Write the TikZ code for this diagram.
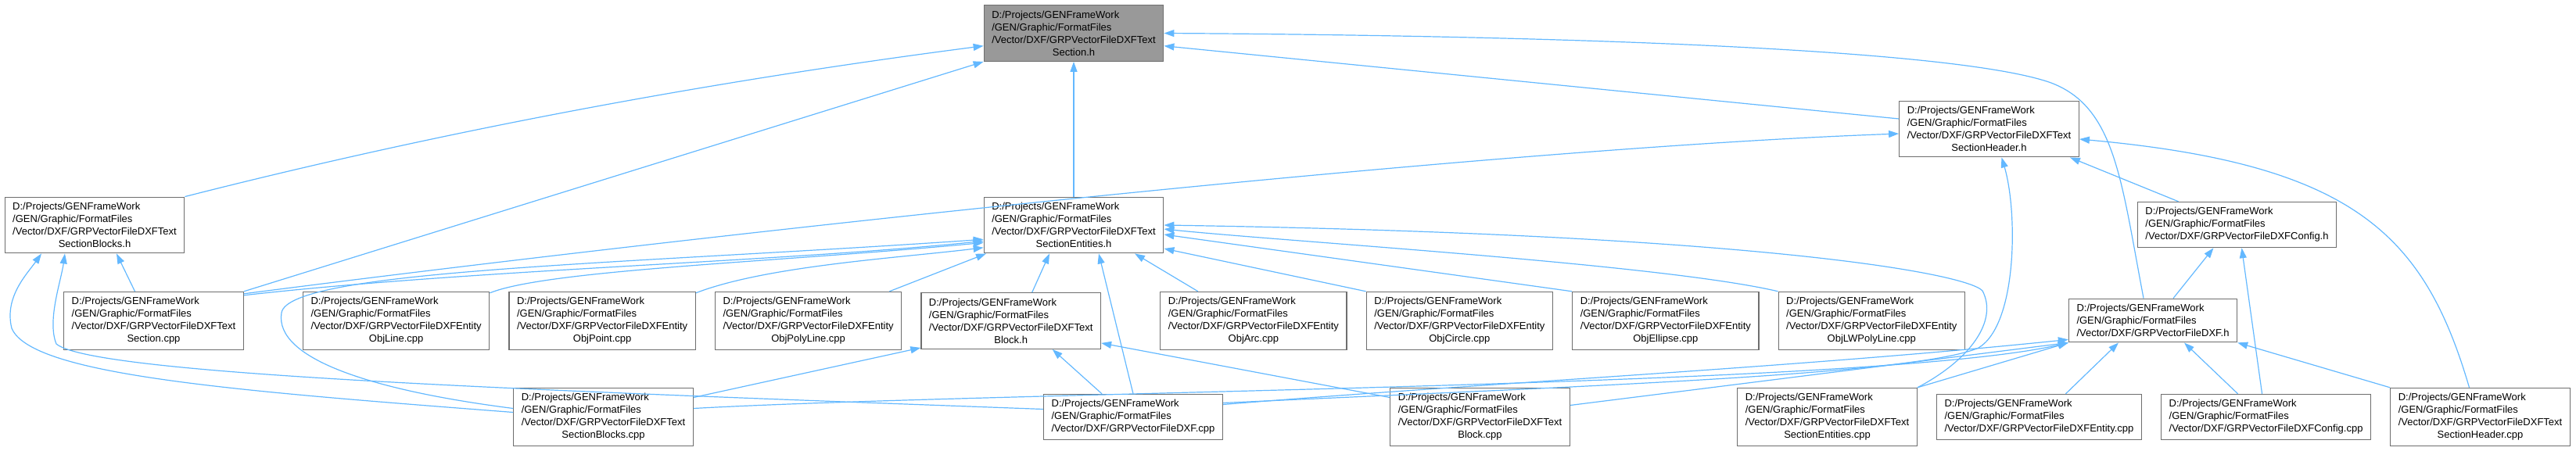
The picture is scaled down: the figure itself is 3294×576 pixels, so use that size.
\documentclass[tikz,border=0pt]{standalone}
\usepackage{fontspec}
\setmainfont{Liberation Sans}
\usepackage{tikz}
\usetikzlibrary{arrows.meta,positioning}
\definecolor{inclink}{HTML}{63B8FF}
\definecolor{boxline}{HTML}{6E6E6E}
\definecolor{rootgray}{HTML}{999999}
\newcommand{\midline}[1]{\null\hfill#1\hfill\null}

\begin{document}
\begin{tikzpicture}[x=1pt,y=1pt,
  node distance=24pt,
  file/.style={draw=boxline,line width=1.3pt,fill=white,align=left,inner xsep=10pt,inner ysep=7pt,font=\fontsize{13}{16}\selectfont},
  rootfile/.style={file,fill=rootgray},
  dep/.style={-{Triangle[length=13pt,width=9pt]},color=inclink,line width=1.2pt}
]
\useasboundingbox (0,0) rectangle (3294,-576);
\node[rootfile] (root) at (1373,-42.5) {D:/Projects/GENFrameWork\\/GEN/Graphic/FormatFiles\\/Vector/DXF/GRPVectorFileDXFText\\\midline{Section.h}};
\node[file] (sbh) at (121,-288) {D:/Projects/GENFrameWork\\/GEN/Graphic/FormatFiles\\/Vector/DXF/GRPVectorFileDXFText\\\midline{SectionBlocks.h}};
\node[file] (seh) at (1373,-288) {D:/Projects/GENFrameWork\\/GEN/Graphic/FormatFiles\\/Vector/DXF/GRPVectorFileDXFText\\\midline{SectionEntities.h}};
\node[file] (shh) at (2543.5,-165) {D:/Projects/GENFrameWork\\/GEN/Graphic/FormatFiles\\/Vector/DXF/GRPVectorFileDXFText\\\midline{SectionHeader.h}};
\node[file] (cfgh) at (2860.5,-287.5) {D:/Projects/GENFrameWork\\/GEN/Graphic/FormatFiles\\/Vector/DXF/GRPVectorFileDXFConfig.h};
\node[file] (secpp) at (196.5,-410.5) {D:/Projects/GENFrameWork\\/GEN/Graphic/FormatFiles\\/Vector/DXF/GRPVectorFileDXFText\\\midline{Section.cpp}};
\node[file,right=75pt of secpp] (objline) {D:/Projects/GENFrameWork\\/GEN/Graphic/FormatFiles\\/Vector/DXF/GRPVectorFileDXFEntity\\\midline{ObjLine.cpp}};
\node[file,right=of objline] (objpoint) {D:/Projects/GENFrameWork\\/GEN/Graphic/FormatFiles\\/Vector/DXF/GRPVectorFileDXFEntity\\\midline{ObjPoint.cpp}};
\node[file,right=of objpoint] (objpoly) {D:/Projects/GENFrameWork\\/GEN/Graphic/FormatFiles\\/Vector/DXF/GRPVectorFileDXFEntity\\\midline{ObjPolyLine.cpp}};
\node[file,right=of objpoly] (blkh) {D:/Projects/GENFrameWork\\/GEN/Graphic/FormatFiles\\/Vector/DXF/GRPVectorFileDXFText\\\midline{Block.h}};
\node[file,right=75pt of blkh] (objarc) {D:/Projects/GENFrameWork\\/GEN/Graphic/FormatFiles\\/Vector/DXF/GRPVectorFileDXFEntity\\\midline{ObjArc.cpp}};
\node[file,right=of objarc] (objcircle) {D:/Projects/GENFrameWork\\/GEN/Graphic/FormatFiles\\/Vector/DXF/GRPVectorFileDXFEntity\\\midline{ObjCircle.cpp}};
\node[file,right=of objcircle] (objellipse) {D:/Projects/GENFrameWork\\/GEN/Graphic/FormatFiles\\/Vector/DXF/GRPVectorFileDXFEntity\\\midline{ObjEllipse.cpp}};
\node[file,right=of objellipse] (objlw) {D:/Projects/GENFrameWork\\/GEN/Graphic/FormatFiles\\/Vector/DXF/GRPVectorFileDXFEntity\\\midline{ObjLWPolyLine.cpp}};
\node[file] (dxfh) at (2753,-410) {D:/Projects/GENFrameWork\\/GEN/Graphic/FormatFiles\\/Vector/DXF/GRPVectorFileDXF.h};
\node[file] (sbc) at (771.5,-533.5) {D:/Projects/GENFrameWork\\/GEN/Graphic/FormatFiles\\/Vector/DXF/GRPVectorFileDXFText\\\midline{SectionBlocks.cpp}};
\node[file] (dxfc) at (1449,-533.5) {D:/Projects/GENFrameWork\\/GEN/Graphic/FormatFiles\\/Vector/DXF/GRPVectorFileDXF.cpp};
\node[file] (blkc) at (1892.5,-533.5) {D:/Projects/GENFrameWork\\/GEN/Graphic/FormatFiles\\/Vector/DXF/GRPVectorFileDXFText\\\midline{Block.cpp}};
\node[file] (secc) at (2336.5,-533.5) {D:/Projects/GENFrameWork\\/GEN/Graphic/FormatFiles\\/Vector/DXF/GRPVectorFileDXFText\\\midline{SectionEntities.cpp}};
\node[file,right=of secc] (entc) {D:/Projects/GENFrameWork\\/GEN/Graphic/FormatFiles\\/Vector/DXF/GRPVectorFileDXFEntity.cpp};
\node[file,right=of entc] (cfgc) {D:/Projects/GENFrameWork\\/GEN/Graphic/FormatFiles\\/Vector/DXF/GRPVectorFileDXFConfig.cpp};
\node[file,right=of cfgc] (shc) {D:/Projects/GENFrameWork\\/GEN/Graphic/FormatFiles\\/Vector/DXF/GRPVectorFileDXFText\\\midline{SectionHeader.cpp}};
\draw[dep] (sbh.north east) .. controls (576,-165) and (916,-103) .. (root.188);
\draw[dep] (secpp.north east) -- (root.south west);
\draw[dep] (seh) -- (root);
\draw[dep] ([yshift=13pt]shh.west) -- (root.-8);
\draw[dep] ([xshift=-12pt]dxfh.north) .. controls (2712,-230) and (2705,-135) .. (2620,-105) .. controls (2480,-58) and (1900,-45) .. (root.east);
\draw[dep] ([yshift=-3pt]secpp.north east) .. controls (900,-300) and (1900,-190) .. (shh.183);
\draw[dep] ([xshift=-24pt]secpp.north) -- ([xshift=28pt]sbh.south);
\draw[dep] ([yshift=-5pt]secpp.north east) .. controls (600,-345) and (1000,-335) .. (seh.190);
\draw[dep] ([yshift=6pt]sbc.west) .. controls (300,-500) and (40,-480) .. (15,-420) .. controls (5,-380) and (35,-350) .. ([xshift=-68pt]sbh.south);
\draw[dep] ([yshift=10pt]dxfc.west) .. controls (700,-500) and (120,-480) .. (72,-440) .. controls (60,-410) and (78,-360) .. ([xshift=-38pt]sbh.south);
\draw[dep] ([yshift=11pt]sbc.west) .. controls (480,-500) and (350,-460) .. (360,-400) .. controls (370,-345) and (800,-338) .. (seh.189);
\draw[dep] ([yshift=25pt]sbc.east) -- ([yshift=2pt]blkh.south west);
\draw[dep] ([yshift=11pt]sbc.east) .. controls (1300,-500) and (2400,-495) .. (dxfh.south west);
\draw[dep] (dxfc.north) -- ([xshift=32pt]seh.south);
\draw[dep] ([xshift=-40pt]dxfc.north) -- ([xshift=53pt]blkh.south);
\draw[dep] ([yshift=16pt]dxfc.east) .. controls (1900,-490) and (2300,-470) .. ([yshift=4pt]dxfh.south west);
\draw[dep] ([yshift=18pt]dxfc.east) .. controls (2000,-495) and (2450,-480) .. (2530,-445) .. controls (2580,-415) and (2580,-270) .. ([xshift=16pt]shh.south);
\draw[dep] ([yshift=25pt]blkc.west) -- ([yshift=8pt]blkh.south east);
\draw[dep] ([yshift=15pt]blkc.east) -- (dxfh.south west);
\draw[dep] ([xshift=27pt]blkh.north) -- ([xshift=-31pt]seh.south);
\draw[dep] ([yshift=-2pt]objline.north east) .. controls (700,-345) and (1000,-335) .. (seh.191);
\draw[dep] ([yshift=-2pt]objpoint.north east) .. controls (980,-340) and (1150,-330) .. (seh.194);
\draw[dep] ([xshift=-16pt]objpoly.north east) -- ([xshift=-112pt]seh.south);
\draw[dep] ([xshift=-71pt]objarc.north) -- ([xshift=78pt]seh.south);
\draw[dep] (objcircle.north west) -- ([yshift=-30pt]seh.east);
\draw[dep] (objellipse.north west) -- ([yshift=-12pt]seh.east);
\draw[dep] (objlw.north west) .. controls (2126,-338) and (1643,-309) .. ([yshift=-5pt]seh.east);
\draw[dep] (secc.north east) .. controls (2520,-460) and (2555,-410) .. (2535,-372) .. controls (2515,-350) and (2250,-300) .. (seh.east);
\draw[dep] (secc.north east) -- (dxfh.south west);
\draw[dep] ([xshift=34pt]entc.north) -- ([xshift=-44pt]dxfh.south);
\draw[dep] ([xshift=-36pt]cfgc.north) -- ([xshift=40pt]dxfh.south);
\draw[dep] ([xshift=-5pt]cfgc.north) -- ([xshift=6pt]cfgh.south);
\draw[dep] (shc.north west) -- (dxfh.south east);
\draw[dep] ([xshift=-14pt]shc.north) .. controls (3100,-300) and (3010,-210) .. ([yshift=-13pt]shh.east);
\draw[dep] ([xshift=-75pt]cfgh.north) -- ([xshift=-12pt]shh.south east);
\draw[dep] ([xshift=26pt]dxfh.north) -- ([xshift=-30pt]cfgh.south);
\end{tikzpicture}
\end{document}
